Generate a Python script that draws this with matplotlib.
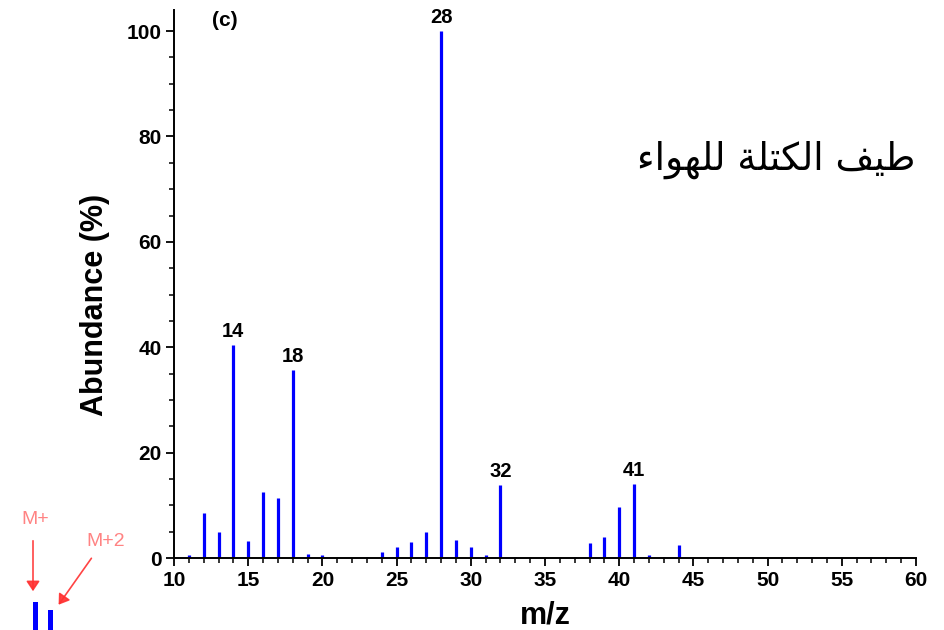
import matplotlib
matplotlib.use("Agg")
import matplotlib.pyplot as plt
from matplotlib.ticker import MultipleLocator

# ---- data ----
mz = [11, 12, 13, 14, 15, 16, 17, 18, 19, 20,
      23, 24, 25, 26, 27, 28, 29, 30, 31, 32, 33,
      37, 38, 39, 40, 41, 42, 43, 44,
      45, 46, 47, 48, 49, 50, 51, 52, 53, 54, 55, 56, 57, 58, 59]
abundance = [0.5, 8.5, 4.9, 40.4, 3.2, 12.5, 11.4, 35.7, 0.8, 0.6,
             0.2, 1.2, 2.0, 3.1, 4.9, 100.0, 3.5, 2.1, 0.5, 13.9, 0.2,
             0.2, 2.8, 3.9, 9.6, 14.0, 0.6, 0.2, 2.5,
             0.15, 0.15, 0.15, 0.15, 0.15, 0.15, 0.15, 0.15, 0.15, 0.15, 0.15, 0.15, 0.15, 0.15, 0.15]
labelled_peaks = [14, 18, 28, 32, 41]
x_ticks = [10, 15, 20, 25, 30, 35, 40, 45, 50, 55, 60]
y_ticks = [0, 20, 40, 60, 80, 100]
inset_labels = ["M+", "M+2"]
inset_values = [1.0, 0.6]

W, H = 945, 630
fig = plt.figure(figsize=(W / 100, H / 100), dpi=100)
ax = fig.add_axes([174 / W, 1 - 558 / H, (916 - 174) / W, (558 - 10) / H])

blue = "#0000ff"
ax.vlines(mz, 0, abundance, colors=blue, linewidth=2.3)

ax.set_xlim(10, 60)
ax.set_ylim(0, 104)
ax.set_xticks(x_ticks)
ax.set_yticks(y_ticks)
ax.xaxis.set_minor_locator(MultipleLocator(1))
ax.yaxis.set_minor_locator(MultipleLocator(5))
ax.tick_params(which="major", direction="out", length=6, width=1.3, labelsize=15, pad=3)
ax.tick_params(which="minor", direction="out", length=3.5, width=1.1)
for lab in ax.get_xticklabels() + ax.get_yticklabels():
    lab.set_fontweight("bold")
    lab.set_fontfamily("Liberation Sans")

for s in ["top", "right"]:
    ax.spines[s].set_visible(False)
for s in ["left", "bottom"]:
    ax.spines[s].set_linewidth(1.4)

ax.set_xlabel("m/z", fontsize=22, fontweight="bold", family="Liberation Sans")
ax.xaxis.set_label_coords((545 - 174) / (916 - 174), -(600 - 558) / (558 - 10))
ax.set_ylabel("Abundance (%)", fontsize=22, fontweight="bold", family="Liberation Sans")
ax.yaxis.set_label_coords(-(174 - 110) / (916 - 174), (558 - 305) / (558 - 10))

for p in labelled_peaks:
    v = abundance[mz.index(p)]
    ax.annotate(str(p), (p, v), xytext=(0, 3), textcoords="offset points",
                ha="center", va="bottom", fontsize=14.5, fontweight="bold",
                family="Liberation Sans")

ax.text(13.4, 102.0, "(c)", fontsize=15, fontweight="bold", family="Liberation Sans",
        ha="center", va="center")

# Arabic title (pre-shaped presentation forms, visual order)
arabic = "\uFE80\uFE8D\uFEEE\uFEEC\uFEE0\uFEDF \uFE94\uFEE0\uFE98\uFEDC\uFEDF\uFE8D \uFED2\uFEF4\uFEC3"
fig.text(915 / W, 1 - 160 / H, arabic, fontsize=27, family=["DejaVu Sans"],
         ha="right", va="center")

# small M+ / M+2 inset in the lower-left corner
red = "#ff3030"
iax = fig.add_axes([28 / W, 0, 30 / W, 28 / H])
iax.bar([0, 1], inset_values, width=0.28, color=blue)
iax.set_xlim(-0.5, 1.5)
iax.set_ylim(0, 0.85)
iax.axis("off")
fig.text(35 / W, 1 - 520 / H, inset_labels[0], color=red, alpha=0.6, fontsize=14,
         ha="center", va="center", family="Liberation Sans")
fig.text(106 / W, 1 - 541 / H, inset_labels[1], color=red, alpha=0.6, fontsize=14,
         ha="center", va="center", family="Liberation Sans")
fig.patches.append(matplotlib.patches.FancyArrowPatch(
    (33 / W, 1 - 538 / H), (33 / W, 1 - 594 / H), transform=fig.transFigure,
    arrowstyle="-|>,head_length=6,head_width=4", color=red, lw=1.2, alpha=0.9))
fig.patches.append(matplotlib.patches.FancyArrowPatch(
    (93 / W, 1 - 556 / H), (57 / W, 1 - 607 / H), transform=fig.transFigure,
    arrowstyle="-|>,head_length=6,head_width=4", color=red, lw=1.2, alpha=0.9))

fig.savefig("out.png", dpi=100)
